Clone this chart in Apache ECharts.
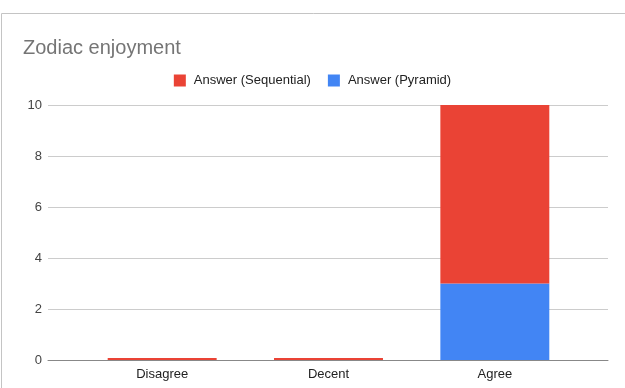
<!DOCTYPE html>
<html><head><meta charset="utf-8">
<script src="https://cdn.jsdelivr.net/npm/echarts@6/dist/echarts.min.js"></script>
<style>html,body{margin:0;padding:0;background:#fff}#c{width:625px;height:388px}</style>
</head><body><div id="c"></div>
<script>
const categories = ['Disagree', 'Decent', 'Agree'];
const sequential = [0, 0, 7];
const pyramid = [0, 0, 3];
const yTicks = [0, 2, 4, 6, 8, 10];

const chart = echarts.init(document.getElementById('c'), null, {renderer: 'canvas'});
const font = '"Liberation Sans", Arial, sans-serif';
chart.setOption({
  animation: false,
  title: {text: 'Zodiac enjoyment', left: 18, top: 33,
    textStyle: {fontFamily: font, fontSize: 20, fontWeight: 'normal', color: '#757575'}},
  legend: {top: 69, left: 'center', itemWidth: 12, itemHeight: 12, itemGap: 17,
    icon: 'rect', textStyle: {fontFamily: font, fontSize: 13, color: '#222', padding: [0, 0, 0, 3]},
    data: ['Answer (Sequential)', 'Answer (Pyramid)']},
  graphic: [{type: 'polyline', shape: {points: [[1.5, 388], [1.5, 13.5], [625, 13.5]]},
    style: {stroke: '#c4c4c4', fill: null, lineWidth: 1}, silent: true}],
  grid: [
    {left: 79, right: 47, top: 105, bottom: 28},
    {left: 48, right: 17, top: 105, bottom: 28}
  ],
  xAxis: [
    {type: 'category', gridIndex: 0, data: categories,
      axisTick: {show: false}, axisLine: {show: false},
      axisLabel: {fontFamily: font, fontSize: 13, color: '#222', margin: 8}},
    {type: 'category', gridIndex: 1, data: categories, show: true,
      axisTick: {show: false}, axisLabel: {show: false},
      axisLine: {show: true, lineStyle: {color: '#888', width: 1}}}
  ],
  yAxis: [
    {type: 'value', gridIndex: 0, min: 0, max: 10, interval: 2, show: false},
    {type: 'value', gridIndex: 1, min: 0, max: 10, interval: 2,
      axisLine: {show: false}, axisTick: {show: false},
      splitLine: {lineStyle: {color: '#cccccc'}},
      axisLabel: {fontFamily: font, fontSize: 13, color: '#444', margin: 6,
        formatter: v => yTicks.includes(v) ? String(v) : ''}}
  ],
  series: [
    {name: 'Answer (Pyramid)', type: 'bar', stack: 's', xAxisIndex: 0, yAxisIndex: 0,
      data: pyramid, barWidth: '65.5%', itemStyle: {color: '#4285F4'}, z: 5},
    {name: 'Answer (Sequential)', type: 'bar', stack: 's', xAxisIndex: 0, yAxisIndex: 0,
      data: sequential, barWidth: '65.5%', barMinHeight: 2, itemStyle: {color: '#EA4335'}, z: 5}
  ]
});
</script></body></html>
